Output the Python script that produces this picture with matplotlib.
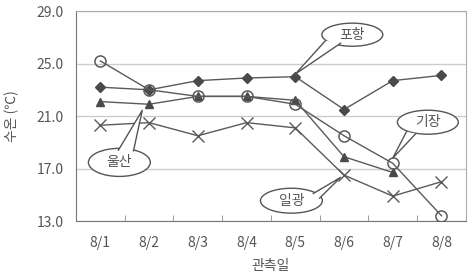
import numpy as np
import matplotlib.pyplot as plt
from matplotlib.patches import Ellipse, Polygon

plt.rcParams['font.family'] = ['Noto Sans CJK KR', 'DejaVu Sans']

# Data
days = ["8/1", "8/2", "8/3", "8/4", "8/5", "8/6", "8/7", "8/8"]
pohang = [23.2, 23.0, 23.7, 23.9, 24.0, 21.5, 23.7, 24.1]
ulsan = [22.1, 21.9, 22.5, 22.5, 22.2, 17.9, 16.7, np.nan]
gijang = [25.2, 23.0, 22.5, 22.5, 21.9, 19.5, 17.4, 13.4]
ilgwang = [20.3, 20.5, 19.5, 20.5, 20.1, 16.5, 14.9, 16.0]
yticks = [13.0, 17.0, 21.0, 25.0, 29.0]

line_c = "#5a5a5a"
mark_c = "#4a4a4a"
text_c = "#555555"

fig = plt.figure(figsize=(4.72, 2.77), dpi=100)
ax = fig.add_axes([0.161, 0.202, 0.826, 0.758])

x = np.arange(len(days))
ax.plot(x, pohang, color=line_c, lw=1, marker="D", ms=5, mfc=mark_c, mec=mark_c, zorder=3)
ax.plot(x, ulsan, color=line_c, lw=1, marker="^", ms=6, mfc=mark_c, mec=mark_c, zorder=3)
ax.plot(x, gijang, color=line_c, lw=1, marker="o", ms=8, mfc="none", mec=line_c, mew=1.1, zorder=4)
ax.plot(x, ilgwang, color=line_c, lw=1, marker="x", ms=8, mec=line_c, mew=1, zorder=3)

ax.set_xlim(-0.5, 7.5)
ax.set_ylim(13, 29)
ax.set_yticks(yticks)
ax.set_yticklabels([f"{v:.1f}" for v in yticks])
ax.set_xticks(x)
ax.set_xticklabels(days)
ax.set_xticks(x[:-1] + 0.5, minor=True)
ax.tick_params(axis="x", which="major", length=0, pad=11, labelsize=10, colors=text_c)
ax.tick_params(axis="x", which="minor", length=4, direction="in", color="#888888")
ax.tick_params(axis="y", length=0, pad=9, labelsize=10, colors=text_c)
ax.grid(axis="y", color="#cccccc", lw=1)
ax.set_axisbelow(True)
for s in ax.spines.values():
    s.set_color("#aaaaaa")
ax.spines["bottom"].set_color("#777777")
ax.spines["left"].set_color("#777777")

ax.set_xlabel("관측일", fontsize=10, color=text_c)
ax.set_ylabel("수온 (℃)", fontsize=10, color=text_c)
ax.xaxis.set_label_coords(0.5, -0.18)
ax.yaxis.set_label_coords(-0.145, 0.5)


# speech bubble: ellipse + wedge tail pointing at a data point
def bubble(label, cx, cy, w, h, tip, base):
    (b1x, b1y), (b2x, b2y) = base
    tail = Polygon([(b1x, b1y), tip, (b2x, b2y)], closed=True, fc="white", ec="none", zorder=6)
    ell = Ellipse((cx, cy), w, h, fc="white", ec="#555555", lw=1, zorder=5)
    ax.add_patch(ell)
    ax.add_patch(tail)
    ax.plot([b1x, tip[0], b2x], [b1y, tip[1], b2y], color="#555555", lw=1, zorder=7)
    ax.text(cx, cy, label, ha="center", va="center", fontsize=10, color=text_c, zorder=8)


bubble("포항", 5.17, 27.2, 1.25, 1.76, (4.0, 24.2),
       [(4.62, 26.75), (4.93, 26.55)])
bubble("기장", 6.72, 20.53, 1.25, 1.83, (6.0, 17.8),
       [(6.28, 19.8), (6.47, 19.65)])
bubble("일광", 3.92, 14.55, 1.27, 1.9, (4.93, 16.33),
       [(4.37, 15.1), (4.50, 14.75)])
bubble("울산", 0.39, 17.47, 1.27, 2.14, (0.86, 21.44),
       [(0.37, 18.4), (0.68, 18.35)])

fig.savefig("out.png", dpi=100)
